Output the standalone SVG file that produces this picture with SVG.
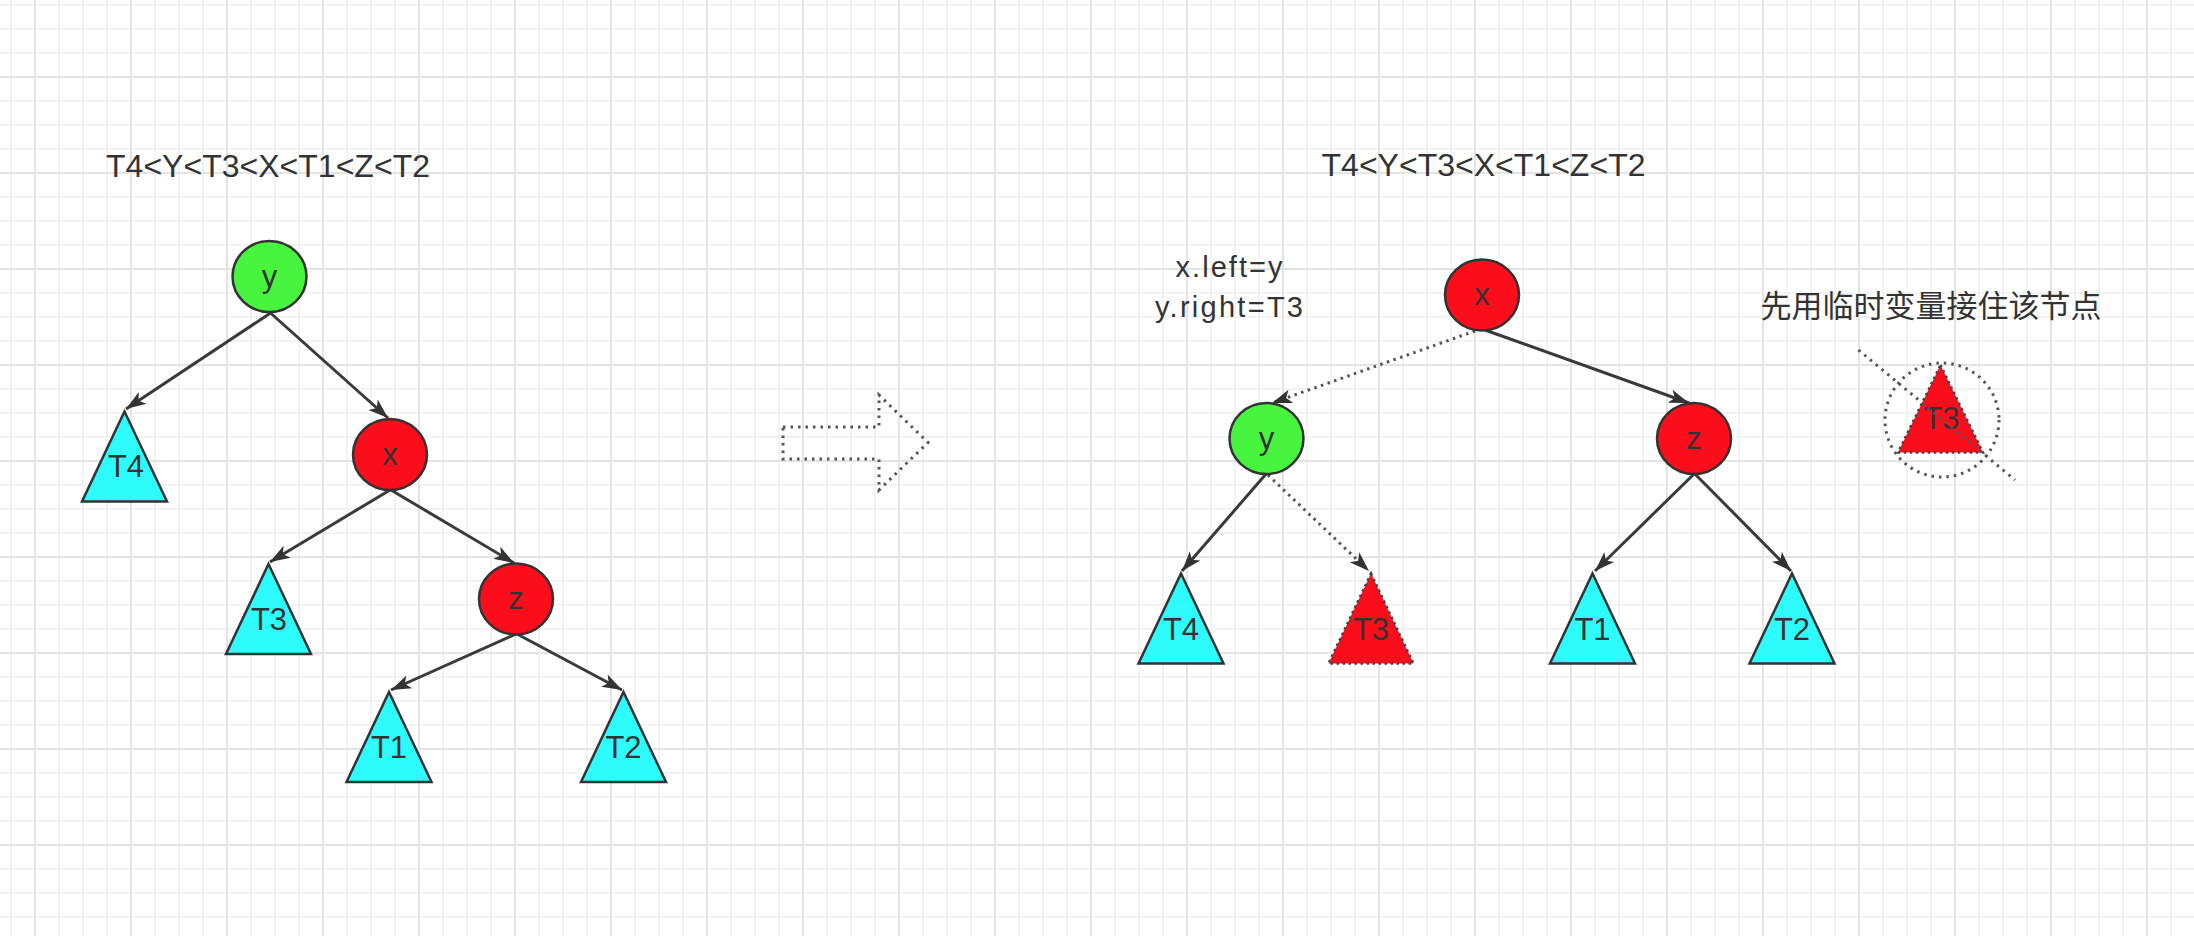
<svg xmlns="http://www.w3.org/2000/svg" width="2194" height="936" viewBox="0 0 2194 936">
<defs>
<pattern id="gMinor" x="-1" y="-7" width="24" height="24" patternUnits="userSpaceOnUse"><path d="M12 0V24M0 12H24" stroke="#f0f0f0" stroke-width="1.5" fill="none"/></pattern>
<pattern id="gMajor" x="-13" y="29" width="96" height="96" patternUnits="userSpaceOnUse"><path d="M48 0V96M0 48H96" stroke="#e4e4e4" stroke-width="2" fill="none"/></pattern>
<marker id="arr" markerUnits="userSpaceOnUse" markerWidth="24" markerHeight="18" refX="20" refY="9" orient="auto"><path d="M0,2 L20,9 L0,16 L5,9 Z" fill="#333"/></marker>
<style>
.txt{font-family:"Liberation Sans","Noto Sans CJK SC",sans-serif;fill:#333;}
.title{font-size:32px;text-anchor:middle;}
.lbl{font-size:31px;text-anchor:middle;}
.note{font-size:29px;text-anchor:middle;}
.cjk{font-family:"Noto Sans CJK SC",sans-serif;font-size:31px;fill:#333;text-anchor:middle;}
.green{fill:#48f53e;stroke:#333;stroke-width:2.5;}
.red{fill:#fc0d1b;stroke:#333;stroke-width:2.5;}
.cyan{fill:#2efcfc;stroke:#333;stroke-width:2.5;}
.redDot{fill:#fc0d1b;stroke:#444;stroke-width:2.5;stroke-dasharray:2.5 3.5;}
.edge{stroke:#3a3a3a;stroke-width:3;fill:none;marker-end:url(#arr);}
.edgeDot{stroke:#555;stroke-width:3;fill:none;stroke-dasharray:2.5 4.5;marker-end:url(#arr);}
.dotShape{stroke:#555;stroke-width:3;fill:none;stroke-dasharray:2.5 5;}
</style>
</defs>
<rect width="2194" height="936" fill="#ffffff"/>
<rect width="2194" height="936" fill="url(#gMinor)"/>
<rect width="2194" height="936" fill="url(#gMajor)"/>

<g id="connectors">
<line class="edge" x1="270.5" y1="313" x2="126" y2="409"/>
<line class="edge" x1="270.5" y1="313" x2="388" y2="418"/>
<line class="edge" x1="390" y1="490" x2="270" y2="562"/>
<line class="edge" x1="391" y1="490" x2="514" y2="563"/>
<line class="edge" x1="516" y1="634" x2="391" y2="690"/>
<line class="edge" x1="517" y1="634" x2="622" y2="690"/>
<line class="edgeDot" x1="1475" y1="331" x2="1272" y2="403"/>
<line class="edge" x1="1485" y1="330" x2="1689" y2="403"/>
<line class="edge" x1="1266" y1="474" x2="1182" y2="571"/>
<line class="edgeDot" x1="1268" y1="475" x2="1369" y2="571"/>
<line class="edge" x1="1694" y1="474" x2="1595" y2="571"/>
<line class="edge" x1="1695" y1="474" x2="1791" y2="571"/>
</g>

<g id="title-left"><text class="txt title" x="268" y="176.5" textLength="324">T4&lt;Y&lt;T3&lt;X&lt;T1&lt;Z&lt;T2</text></g>
<g id="title-right"><text class="txt title" x="1483.5" y="176" textLength="324">T4&lt;Y&lt;T3&lt;X&lt;T1&lt;Z&lt;T2</text></g>

<g id="L-y"><ellipse class="green" cx="269.5" cy="276.5" rx="37" ry="35.5"/><text class="txt lbl" x="269.5" y="286.5">y</text></g>
<g id="L-x"><ellipse class="red" cx="390" cy="454.5" rx="37" ry="35.5"/><text class="txt lbl" x="390" y="464.5">x</text></g>
<g id="L-z"><ellipse class="red" cx="516" cy="599" rx="37" ry="35.5"/><text class="txt lbl" x="516" y="609">z</text></g>
<g id="L-T4"><polygon class="cyan" points="124.5,411.5 167,501.5 82,501.5"/><text class="txt lbl" x="126" y="477">T4</text></g>
<g id="L-T3"><polygon class="cyan" points="268.5,564 311,654 226,654"/><text class="txt lbl" x="269" y="630">T3</text></g>
<g id="L-T1"><polygon class="cyan" points="389,692 431.5,782 346.5,782"/><text class="txt lbl" x="389" y="758">T1</text></g>
<g id="L-T2"><polygon class="cyan" points="623.5,692 666,782 581,782"/><text class="txt lbl" x="623.5" y="758">T2</text></g>

<g id="transform-arrow"><polygon class="dotShape" points="783,427 879,427 879,395 928,442.5 879,490 879,459 783,459"/></g>

<g id="note"><text class="txt note" x="1229" y="277" textLength="107">x.left=y</text><text class="txt note" x="1229" y="316.5" textLength="148">y.right=T3</text></g>

<g id="R-x"><ellipse class="red" cx="1482" cy="295" rx="37" ry="35.5"/><text class="txt lbl" x="1482" y="305">x</text></g>
<g id="R-y"><ellipse class="green" cx="1266.5" cy="438.5" rx="37" ry="35.5"/><text class="txt lbl" x="1266.5" y="448.5">y</text></g>
<g id="R-z"><ellipse class="red" cx="1694" cy="438.5" rx="37" ry="35.5"/><text class="txt lbl" x="1694" y="448.5">z</text></g>
<g id="R-T4"><polygon class="cyan" points="1181,573.5 1223.5,663.5 1138.5,663.5"/><text class="txt lbl" x="1181" y="640">T4</text></g>
<g id="R-T3"><polygon class="redDot" points="1371,573.5 1413.5,663.5 1328.5,663.5"/><text class="txt lbl" x="1371" y="640">T3</text></g>
<g id="R-T1"><polygon class="cyan" points="1592.5,573.5 1635,663.5 1550,663.5"/><text class="txt lbl" x="1592.5" y="640">T1</text></g>
<g id="R-T2"><polygon class="cyan" points="1792,573.5 1834.5,663.5 1749.5,663.5"/><text class="txt lbl" x="1792" y="640">T2</text></g>

<g id="temp-note"><text class="cjk" x="1931" y="317">先用临时变量接住该节点</text></g>
<g id="temp-T3">
<polygon class="redDot" points="1940.5,365 1983,452.5 1898,452.5"/>
<text class="txt lbl" x="1941.5" y="429">T3</text>
<circle class="dotShape" cx="1942" cy="420" r="57"/>
<line class="dotShape" x1="1858.5" y1="350" x2="2015" y2="480"/>
</g>
</svg>
